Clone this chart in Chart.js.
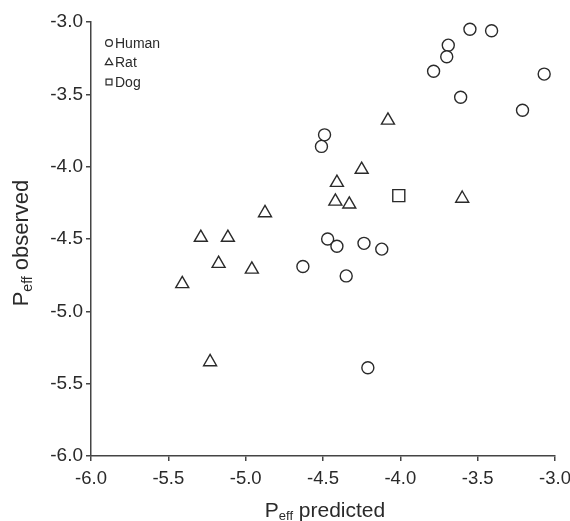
<!DOCTYPE html>
<html><head><meta charset="utf-8">
<script src="https://cdn.jsdelivr.net/npm/chart.js@4"></script>
<style>html,body{margin:0;padding:0;background:#fff}#wrap{width:570px;height:521px}</style>
</head><body><div id="wrap"><canvas id="c" width="570" height="521"></canvas></div>
<script>
const humanX = [-3.55,-3.41,-3.69,-3.70,-3.785,-3.07,-3.61,-3.21,-4.49,-4.51,-4.47,-4.41,-4.235,-4.12,-4.63,-4.35,-4.21];
const humanY = [-3.05,-3.06,-3.16,-3.24,-3.34,-3.36,-3.52,-3.61,-3.78,-3.86,-4.50,-4.55,-4.53,-4.57,-4.69,-4.755,-5.39];
const ratX = [-4.08,-4.25,-4.41,-4.42,-4.33,-3.60,-4.875,-5.29,-5.115,-5.175,-4.96,-5.41,-5.23];
const ratY = [-3.68,-4.02,-4.11,-4.24,-4.26,-4.22,-4.32,-4.49,-4.49,-4.67,-4.71,-4.81,-5.35];
const dogX = [-4.01];
const dogY = [-4.20];
const seriesNames = ['Human','Rat','Dog'];
const xTitle = ['P','eff',' predicted'];
const yTitle = ['P','eff',' observed'];

const FONT = "'Liberation Sans', Arial, sans-serif";
const INK = '#2a2a2a';
const pts = (xs, ys) => xs.map((x, i) => ({x, y: ys[i]}));

const ds = (label, data, style, r) => ({
  label, data, pointStyle: style, pointRadius: r, pointHoverRadius: r,
  backgroundColor: '#ffffff', borderColor: INK, pointBorderWidth: 1.4, showLine: false
});

const legendPlugin = {
  id: 'innerLegend',
  afterDraw(chart) {
    const ctx = chart.ctx;
    const sizes = [3.4, 4.3, 4.2];
    chart.data.datasets.forEach((d, i) => {
      const x = 109, y = 43 + i * 19.5;
      ctx.save();
      ctx.strokeStyle = INK; ctx.fillStyle = '#fff'; ctx.lineWidth = 1.2;
      Chart.helpers.drawPoint(ctx, {pointStyle: d.pointStyle, radius: sizes[i], borderWidth: 1.2}, x, y);
      ctx.fillStyle = INK; ctx.font = '14px ' + FONT; ctx.textBaseline = 'middle'; ctx.textAlign = 'left';
      ctx.fillText(d.label, x + 6, y + 1);
      ctx.restore();
    });
  }
};

function drawSubTitle(ctx, parts, big, small, subDrop) {
  ctx.font = big + 'px ' + FONT; const w0 = ctx.measureText(parts[0]).width;
  const w2 = ctx.measureText(parts[2]).width;
  ctx.font = small + 'px ' + FONT; const w1 = ctx.measureText(parts[1]).width;
  const total = w0 + w1 + w2;
  let x = -total / 2;
  ctx.textBaseline = 'alphabetic'; ctx.textAlign = 'left';
  ctx.font = big + 'px ' + FONT; ctx.fillText(parts[0], x, 0); x += w0;
  ctx.font = small + 'px ' + FONT; ctx.fillText(parts[1], x, subDrop); x += w1;
  ctx.font = big + 'px ' + FONT; ctx.fillText(parts[2], x, 0);
}

const titlePlugin = {
  id: 'subTitles',
  afterDraw(chart) {
    const ctx = chart.ctx, a = chart.chartArea;
    ctx.save(); ctx.fillStyle = INK;
    ctx.translate((a.left + a.right) / 2 + 2, 517);
    drawSubTitle(ctx, xTitle, 21, 13, 3);
    ctx.restore();
    ctx.save(); ctx.fillStyle = INK;
    ctx.translate(28, (a.top + a.bottom) / 2 + 4);
    ctx.rotate(-Math.PI / 2);
    drawSubTitle(ctx, yTitle, 22, 14, 4);
    ctx.restore();
  }
};

new Chart(document.getElementById('c'), {
  type: 'scatter',
  data: { datasets: [
    ds(seriesNames[0], pts(humanX, humanY), 'circle', 6),
    ds(seriesNames[1], pts(ratX, ratY), 'triangle', 7.5),
    ds(seriesNames[2], pts(dogX, dogY), 'rect', 8.5)
  ]},
  options: {
    responsive: false, animation: false, devicePixelRatio: 1,
    layout: { padding: { top: 22, right: 15, bottom: 0, left: 0 } },
    plugins: { legend: { display: false }, tooltip: { enabled: false } },
    scales: {
      x: {
        type: 'linear', min: -6, max: -3,
        border: { display: true, color: '#444', width: 1.5 },
        grid: { display: true, drawOnChartArea: false, drawTicks: true, tickLength: 5, color: '#444', lineWidth: 1.5 },
        ticks: { stepSize: 0.5, color: INK, font: { family: FONT, size: 18.5 }, padding: 7,
                 callback: v => v.toFixed(1) },
        afterFit: s => { s.height = 65; s.paddingLeft = 0; s.paddingRight = 0; }
      },
      y: {
        type: 'linear', min: -6, max: -3,
        border: { display: true, color: '#444', width: 1.5 },
        grid: { display: true, drawOnChartArea: false, drawTicks: true, tickLength: 5, color: '#444', lineWidth: 1.5 },
        ticks: { stepSize: 0.5, color: INK, font: { family: FONT, size: 19 }, padding: 3,
                 callback: v => v.toFixed(1) },
        afterFit: s => { s.width = 91; s.paddingTop = 0; s.paddingBottom = 0; }
      }
    }
  },
  plugins: [legendPlugin, titlePlugin]
});
</script></body></html>
